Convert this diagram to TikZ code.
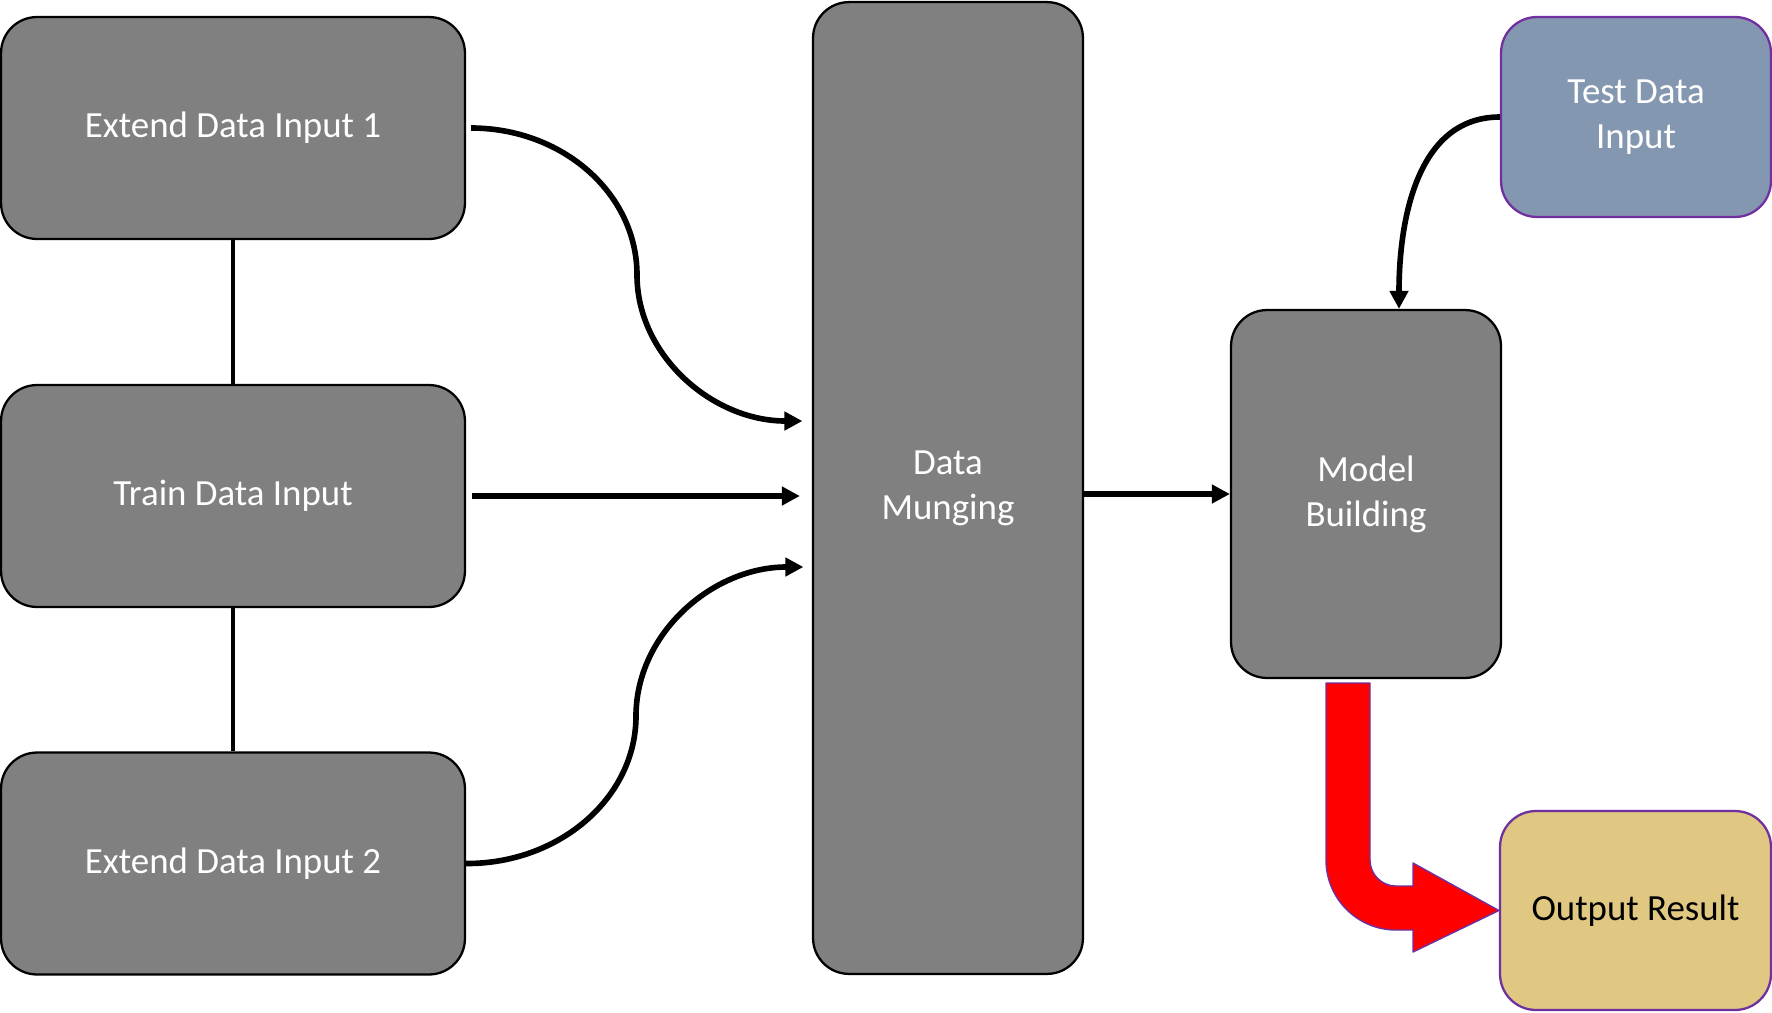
\documentclass[tikz,border=0pt]{standalone}
\usepackage{fontspec}
\setmainfont{Carlito}
\usetikzlibrary{arrows.meta}
\definecolor{boxgray}{HTML}{808080}
\definecolor{testblue}{HTML}{8497B0}
\definecolor{outtan}{HTML}{E0C882}
\definecolor{edgepurple}{HTML}{7030A0}
\begin{document}
\begin{tikzpicture}[x=0.02cm,y=-0.02cm,line join=round,>={Triangle[length=0.36cm,width=0.36cm]},
	box/.style={draw,line width=1.3pt,rounded corners=0.72cm,fill=boxgray,text=white,align=center,inner sep=0pt,font=\fontsize{21}{25.6}\selectfont},
	conn/.style={->,line width=3.2pt},
	link/.style={line width=2pt}]
	\useasboundingbox (0,0) rectangle (1772,1012);
	\node[box,minimum width=9.28cm,minimum height=4.44cm] (e1) at (233,128) {Extend Data Input 1};
	\node[box,minimum width=9.28cm,minimum height=4.44cm] (tr) at (233,496) {Train Data Input};
	\node[box,minimum width=9.28cm,minimum height=4.44cm] (e2) at (233,863.5) {Extend Data Input 2};
	\node[box,minimum width=5.4cm,minimum height=19.44cm] (dm) at (948,488) {Data\\Munging};
	\node[box,minimum width=5.4cm,minimum height=7.36cm] (mb) at (1366,494) {Model\\Building};
	\node[box,fill=testblue,draw=edgepurple,minimum width=5.4cm,minimum height=4cm] (td) at (1636,117) {Test Data\\Input};
	\node[box,fill=outtan,draw=edgepurple,text=black,minimum width=5.42cm,minimum height=3.98cm] (out) at (1635.5,910.5) {Output Result};
	\draw[link] (e1) -- (tr);
	\draw[link] (tr) -- (e2);
	\draw[conn] ([xshift=0.1cm]e1.east) .. controls (562,128) and (637,193) .. (637,275) .. controls (637,355) and (712,421) .. ([xshift=-0.19cm,yshift=1.34cm]dm.west);
	\draw[conn,shorten <=0.12cm,shorten >=0.24cm] (tr.east) -- (tr.east -| dm.west);
	\draw[conn] (e2.east) .. controls (559,864) and (636,798) .. (636,716) .. controls (636,634) and (712,567) .. ([xshift=-0.17cm,yshift=-1.58cm]dm.west);
	\draw[conn] (mb.west -| dm.east) -- (mb.west);
	\draw[conn] (td.west) to[out=180,in=90] ([xshift=0.66cm]mb.north);
	\draw[edgepurple,fill=red,line width=0.8pt] (1326,683) -- (1326,860) .. controls (1326,898.6) and (1357.4,930) .. (1396,930) -- (1413,930) -- (1413,952) -- (out.west) -- (1413,863) -- (1413,886) -- (1396,886) .. controls (1381.6,886) and (1370,874.4) .. (1370,860) -- (1370,683) -- cycle;
\end{tikzpicture}
\end{document}
